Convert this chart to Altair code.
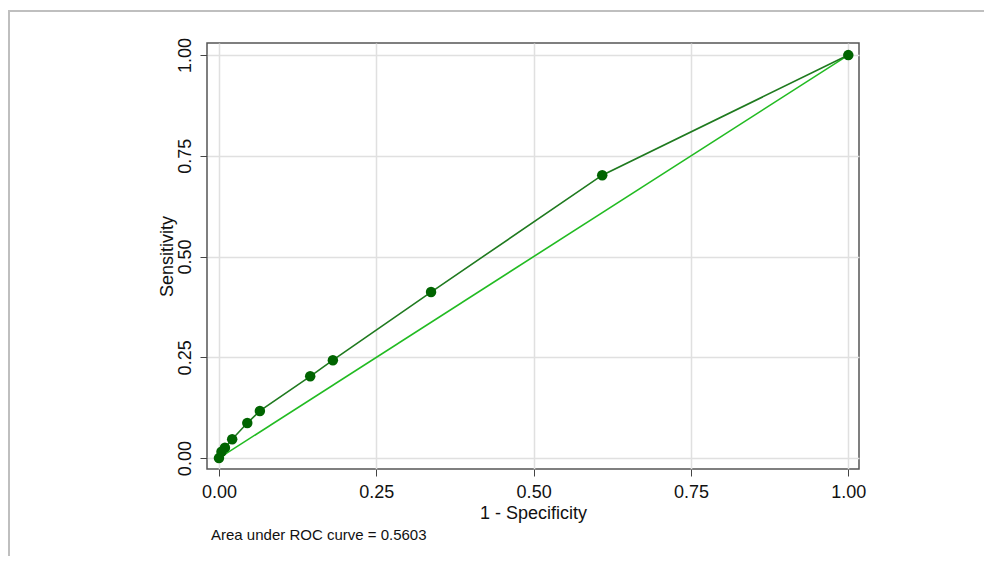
import altair as alt
import pandas as pd

# ROC points
fpr = [0.0, 0.004, 0.0095, 0.021, 0.045, 0.065, 0.145, 0.181, 0.337, 0.609, 1.0]
tpr = [0.0, 0.016, 0.026, 0.047, 0.087, 0.117, 0.203, 0.243, 0.412, 0.702, 1.0]
ref_x = [0.0, 1.0]
ref_y = [0.0, 1.0]
ticks = [0.0, 0.25, 0.5, 0.75, 1.0]
caption = "Area under ROC curve = 0.5603"

roc = pd.DataFrame({"fpr": fpr, "tpr": tpr})
ref = pd.DataFrame({"fpr": ref_x, "tpr": ref_y})

FONT = "Liberation Sans"
xs = alt.Scale(domain=[-0.019, 1.017], nice=False, zero=False)
ys = alt.Scale(domain=[-0.027, 1.03], nice=False, zero=False)

xenc = alt.X("fpr:Q", scale=xs, title="1 - Specificity",
             axis=alt.Axis(values=ticks, format=".2f", grid=True, gridColor="#e0e0e0",
                           gridWidth=1.5, tickSize=7, tickColor="#444", domain=False,
                           labelFont=FONT, labelFontSize=18, labelColor="#111",
                           labelPadding=7, titleFont=FONT, titleFontSize=18,
                           titleFontWeight="normal", titleColor="#111", titlePadding=3))
yenc = alt.Y("tpr:Q", scale=ys, title="Sensitivity",
             axis=alt.Axis(values=ticks, format=".2f", grid=True, gridColor="#e0e0e0",
                           gridWidth=1.5, tickSize=7, tickColor="#444", domain=False,
                           labelFont=FONT, labelFontSize=18, labelColor="#111",
                           labelAngle=270, labelAlign="center", labelBaseline="bottom",
                           labelPadding=6, titleFont=FONT, titleFontSize=18,
                           titleFontWeight="normal", titleColor="#111", titlePadding=0))

ref_line = alt.Chart(ref).mark_line(color="#22bb22", strokeWidth=1.6).encode(x=xenc, y=yenc)
roc_line = alt.Chart(roc).mark_line(color="#1f7a1f", strokeWidth=1.6).encode(x=xenc, y=yenc)
roc_pts = alt.Chart(roc).mark_circle(color="#006400", size=110, opacity=1).encode(x=xenc, y=yenc)

cap = alt.Chart(pd.DataFrame({"t": [caption]})).mark_text(
    align="left", baseline="middle", font=FONT, fontSize=15, color="#111"
).encode(x=alt.value(4), y=alt.value(492), text="t:N")

# outer frame (top and left edges visible)
frame_top = alt.Chart(pd.DataFrame({"a": [0]})).mark_rule(color="#bfbfbf", strokeWidth=2).encode(
    x=alt.value(-198), x2=alt.value(790), y=alt.value(-32))
frame_left = alt.Chart(pd.DataFrame({"a": [0]})).mark_rule(color="#bfbfbf", strokeWidth=2).encode(
    x=alt.value(-198), y=alt.value(-33), y2=alt.value(530))

chart = alt.layer(ref_line, roc_line, roc_pts, cap, frame_top, frame_left).properties(
    width=652, height=426,
    autosize=alt.AutoSizeParams(type="none"),
    padding={"left": 199, "top": 35, "right": 125, "bottom": 87},
    background="white",
).configure_view(stroke="#555", strokeWidth=1.5)

chart.save("out.html", embed_options={"renderer": "svg", "actions": False})
